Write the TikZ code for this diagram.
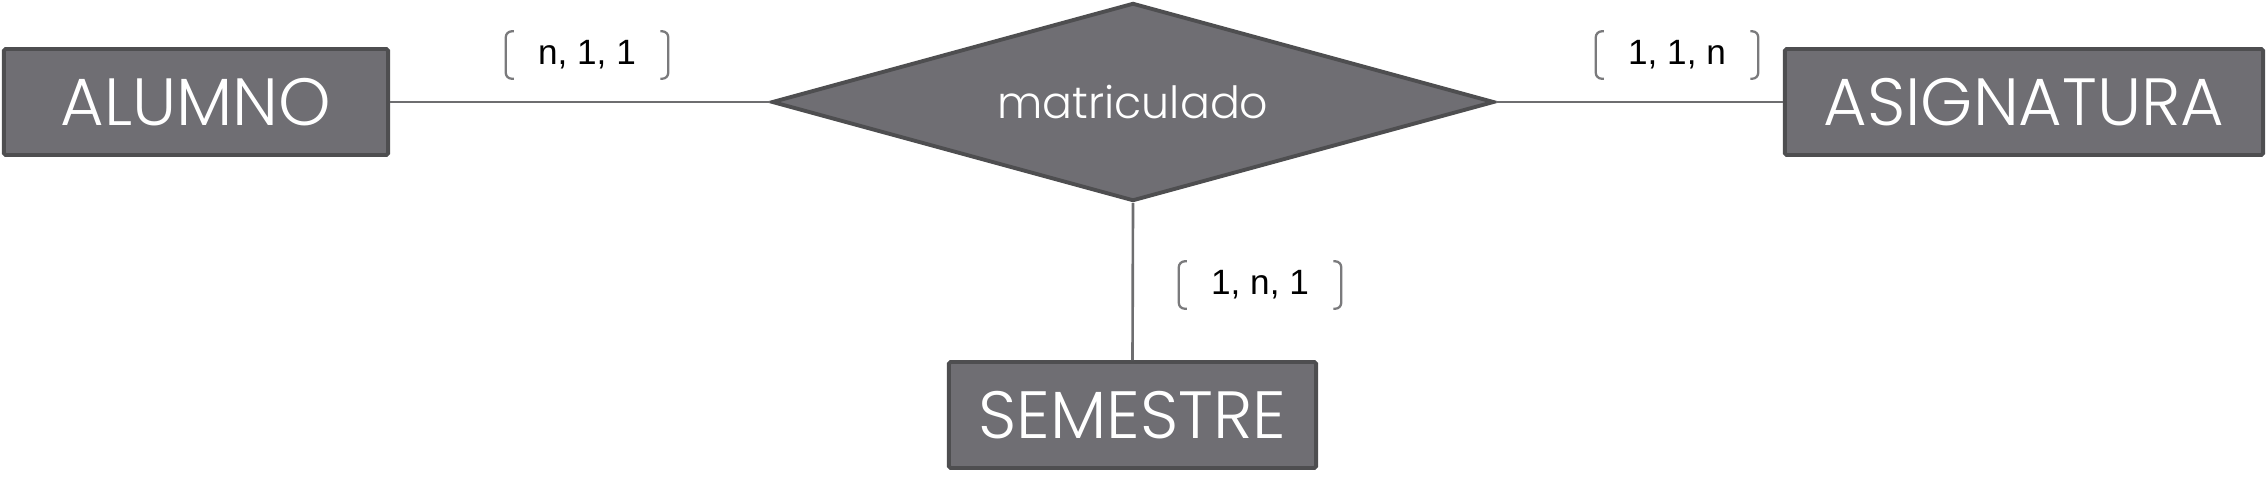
\documentclass[tikz,border=0pt]{standalone}
\usepackage{fontspec}
\usepackage{tikz}
\usetikzlibrary{shapes.geometric}
\newfontfamily\boxfont{Poppins Light}
\newfontfamily\cardfont{Liberation Sans}
\definecolor{BoxFill}{HTML}{6F6E73}
\definecolor{BoxEdge}{HTML}{4E4E50}
\definecolor{LinkGray}{HTML}{6E6E70}
\definecolor{BracketGray}{HTML}{7A7A7C}

\begin{document}
\begin{tikzpicture}[x=0.01cm, y=-0.01cm,
  entitybox/.style={draw=BoxEdge, fill=BoxFill, line width=1.1pt, rounded corners=0.5pt,
    minimum width=3.84cm, minimum height=1.06cm, inner sep=0pt, text=white,
    font=\boxfont\fontsize{19}{21}\selectfont},
  relationbox/.style={diamond, draw=BoxEdge, fill=BoxFill, line width=1.1pt,
    minimum width=7.22cm, minimum height=1.98cm, inner sep=0pt, aspect=3.6, text=white,
    font=\boxfont\fontsize{12.6}{14}\selectfont},
  cardlabel/.style={minimum width=1.61cm, minimum height=0.46cm, inner sep=0pt,
    font=\cardfont\fontsize{10}{12}\selectfont},
  bracketline/.style={draw=BracketGray, line width=0.65pt, rounded corners=0.6mm},
  link/.style={draw=LinkGray, line width=0.75pt}
]
\useasboundingbox (0,0) rectangle (2266,493);
\node[entitybox, minimum width=3.84cm] (alumno) at (196,102) {ALUMNO};
\node[entitybox, minimum width=4.78cm] (asignatura) at (2024,102) {ASIGNATURA};
\node[entitybox, minimum width=3.67cm] (semestre) at (1132.5,415) {SEMESTRE};
\node[relationbox] (matriculado) at (1133,102) {matriculado};
\node[cardlabel] (cardalumno) at (587,55) {n, 1, 1};
\node[cardlabel] (cardasignatura) at (1677,55) {1, 1, n};
\node[cardlabel] (cardsemestre) at (1260,285) {1, n, 1};
\draw[link] (alumno.east) -- (matriculado.west);
\draw[link] (matriculado.east) -- (asignatura.west);
\draw[link] (matriculado.south) -- (semestre.north);
% brackets round the cardinalities
\foreach \card in {cardalumno,cardasignatura,cardsemestre}{
  \draw[bracketline] ([xshift=0.8mm]\card.north west) -- (\card.north west) -- (\card.south west) -- ([xshift=0.8mm]\card.south west);
  \draw[bracketline] ([xshift=-0.8mm]\card.north east) -- (\card.north east) -- (\card.south east) -- ([xshift=-0.8mm]\card.south east);
}
\end{tikzpicture}
\end{document}
